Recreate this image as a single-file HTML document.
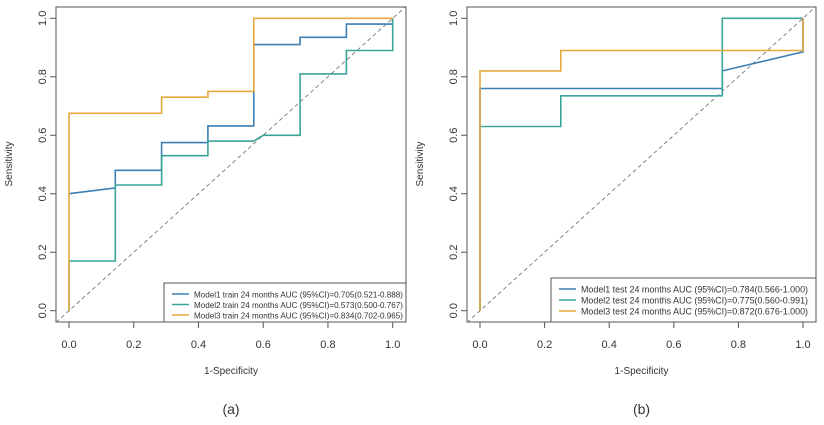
<!DOCTYPE html>
<html><head><meta charset="utf-8">
<style>
html,body{margin:0;padding:0;background:#fff;}
svg{display:block;font-family:"Liberation Sans",sans-serif;}
</style></head>
<body>
<svg id="chart" width="824" height="425" viewBox="0 0 824 425"></svg>
<script>
const ticks = [0, 0.2, 0.4, 0.6, 0.8, 1.0];
const tickLabels = ["0.0", "0.2", "0.4", "0.6", "0.8", "1.0"];
const seriesNames = ["Model1", "Model2", "Model3"];
const colors = ["#3d7fb3", "#3aa39a", "#e6a93c"];
// Panel a (train)
const aM1x = [0, 0.143, 0.143, 0.286, 0.286, 0.429, 0.429, 0.571, 0.571, 0.714, 0.714, 0.857, 0.857, 1, 1];
const aM1y = [0.40, 0.42, 0.48, 0.48, 0.575, 0.575, 0.632, 0.632, 0.91, 0.91, 0.935, 0.935, 0.98, 0.98, 1];
const aM2x = [0, 0, 0.143, 0.143, 0.286, 0.286, 0.429, 0.429, 0.571, 0.6, 0.714, 0.714, 0.857, 0.857, 1, 1];
const aM2y = [0, 0.17, 0.17, 0.43, 0.43, 0.53, 0.53, 0.58, 0.58, 0.60, 0.60, 0.81, 0.81, 0.89, 0.89, 1];
const aM3x = [0, 0, 0.286, 0.286, 0.429, 0.429, 0.571, 0.571, 1];
const aM3y = [0, 0.675, 0.675, 0.73, 0.73, 0.75, 0.75, 1, 1];
const aLegend = ["Model1 train 24 months AUC (95%CI)=0.705(0.521-0.888)",
                 "Model2 train 24 months AUC (95%CI)=0.573(0.500-0.767)",
                 "Model3 train 24 months AUC (95%CI)=0.834(0.702-0.965)"];
// Panel b (test)
const bM1x = [0, 0, 0.75, 0.75, 1, 1];
const bM1y = [0, 0.76, 0.76, 0.82, 0.885, 1];
const bM2x = [0, 0, 0.25, 0.25, 0.75, 0.75, 1];
const bM2y = [0, 0.63, 0.63, 0.735, 0.735, 1, 1];
const bM3x = [0, 0, 0.25, 0.25, 1, 1];
const bM3y = [0, 0.82, 0.82, 0.89, 0.89, 1];
const bLegend = ["Model1 test 24 months AUC (95%CI)=0.784(0.566-1.000)",
                 "Model2 test 24 months AUC (95%CI)=0.775(0.560-0.991)",
                 "Model3 test 24 months AUC (95%CI)=0.872(0.676-1.000)"];

const NS = "http://www.w3.org/2000/svg";
const svg = document.getElementById("chart");
function mk(tag, attrs, parent, text){
  const e = document.createElementNS(NS, tag);
  for (const k in attrs) e.setAttribute(k, attrs[k]);
  if (text !== undefined) e.textContent = text;
  (parent || svg).appendChild(e);
  return e;
}

function panel(cfg){
  const g = mk("g", {});
  
  
  const sx = v => cfg.x0 + v * (cfg.x1 - cfg.x0);
  const sy = v => cfg.y0 + v * (cfg.y1 - cfg.y0);
  const box = mk("rect", {x: cfg.bl, y: 7, width: cfg.br - cfg.bl, height: 315, fill: "none", stroke: "#555", "stroke-width": 1}, g);
  
  
  const d = mk("line", {x1: cfg.bl, y1: sy((cfg.bl - cfg.x0)/(cfg.x1-cfg.x0)), x2: cfg.br, y2: sy((cfg.br - cfg.x0)/(cfg.x1-cfg.x0)), stroke: "#777", "stroke-width": 0.9, "stroke-dasharray": "4,3"}, g);
  
  
  ticks.forEach((t, i) => {
    const xt = mk("line", {x1: sx(t), x2: sx(t), y1: 322, y2: 328, stroke: "#555"}, g);
    
    
    const xl = mk("text", {x: sx(t), y: 348, "text-anchor": "middle", "font-size": 11, fill: "#333"}, g, tickLabels[i]);
    
    
    const yt = mk("line", {x1: cfg.bl, x2: cfg.bl - 6, y1: sy(t), y2: sy(t), stroke: "#555"}, g);
    
    
    const yl = mk("text", {x: 0, y: 0, transform: "translate(" + (cfg.bl - 10) + "," + sy(t) + ") rotate(-90)", "text-anchor": "middle", "font-size": 11, fill: "#333"}, g, tickLabels[i]);
    
    
  });
  const xt = mk("text", {x: (cfg.bl + cfg.br)/2, y: 374, "text-anchor": "middle", "font-size": 10, fill: "#333"}, g, "1-Specificity");
  
  
  const yt = mk("text", {x: 0, y: 0, transform: "translate(" + (cfg.bl - 44) + ",164) rotate(-90)", "text-anchor": "middle", "font-size": 10, fill: "#333"}, g, "Sensitivity");
  
  
  cfg.series.forEach((s, i) => {
    const pts = s[0].map((x, j) => sx(x).toFixed(1) + "," + sy(s[1][j]).toFixed(1)).join(" ");
    const p = mk("polyline", {points: pts, fill: "none", stroke: colors[i], "stroke-width": 1.6}, g);
    
    
  });
  const lg = mk("g", {}, g);
  
  
  mk("rect", {x: cfg.lx, y: cfg.ly, width: cfg.br - cfg.lx, height: 322 - cfg.ly, fill: "#fff", stroke: "#555"}, lg);
  cfg.legend.forEach((t, i) => {
    const yy = cfg.ly + cfg.lpad + i * cfg.lstep;
    const e = mk("g", {}, lg);
    
    
    mk("line", {x1: cfg.lx + 8, x2: cfg.lx + 25, y1: yy, y2: yy, stroke: colors[i], "stroke-width": 1.6}, e);
    mk("text", {x: cfg.lx + 30, y: yy + 3.3, "font-size": cfg.lfs, fill: "#333", textLength: cfg.ltl, lengthAdjust: "spacingAndGlyphs"}, e, t);
  });
  const cap = mk("text", {x: (cfg.bl + cfg.br)/2, y: 414, "text-anchor": "middle", "font-size": 14, fill: "#333"}, g, cfg.caption);
  
  
}

panel({name: "panel-a-train", bl: 56, br: 406, x0: 69, x1: 392.7, y0: 310.7, y1: 18.3, lx: 164, ly: 283,
  lpad: 11, lstep: 10.5, lfs: 8.6, ltl: 209,
  series: [[aM1x, aM1y], [aM2x, aM2y], [aM3x, aM3y]], legend: aLegend, caption: "(a)"});
panel({name: "panel-b-test", bl: 467, br: 816, x0: 480, x1: 803, y0: 310.7, y1: 18.3, lx: 551, ly: 278,
  lpad: 11, lstep: 11, lfs: 9.3, ltl: 227,
  series: [[bM1x, bM1y], [bM2x, bM2y], [bM3x, bM3y]], legend: bLegend, caption: "(b)"});
</script>
</body></html>
